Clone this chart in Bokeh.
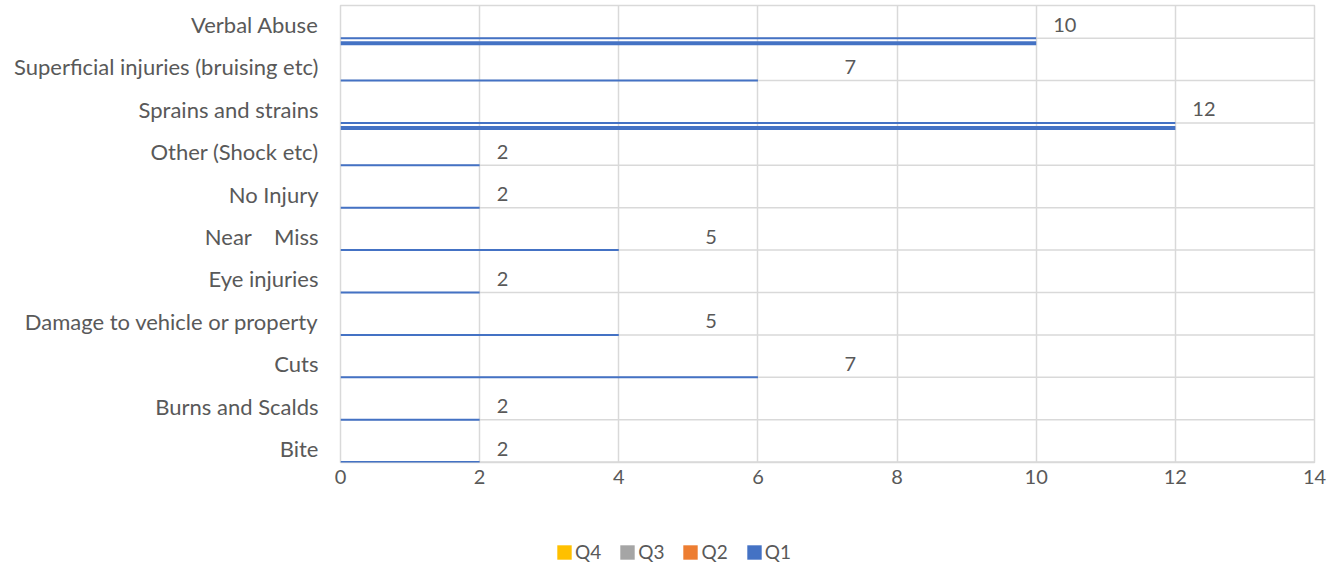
from bokeh.plotting import figure
from bokeh.layouts import column
from bokeh.models import Range1d, FixedTicker, Legend, LegendItem, ColumnDataSource
from bokeh.core.properties import value
from bokeh.embed import file_html
from bokeh.resources import INLINE

# ---- data (bottom to top) ----
categories = ["Bite", "Burns and Scalds", "Cuts", "Damage to vehicle or property",
              "Eye injuries", "Near\u00a0\u00a0\u00a0 Miss", "No Injury", "Other (Shock etc)",
              "Sprains and strains", "Superficial injuries (bruising etc)", "Verbal Abuse"]
q1_values = [2, 2, 6, 4, 2, 4, 2, 2, 12, 6, 10]          # drawn bar length
q1_second = [0, 0, 0, 0, 0, 0, 0, 0, 12, 0, 10]          # second (thick) line
total_labels = [2, 2, 7, 5, 2, 5, 2, 2, 12, 7, 10]       # data labels
x_ticks = [0, 2, 4, 6, 8, 10, 12, 14]
series_names = ["Q4", "Q3", "Q2", "Q1"]
series_colors = ["#FFC000", "#A5A5A5", "#ED7D31", "#4472C4"]

FONT = "Lato"
TXT = "#595959"
GRID = "#D9D9D9"
FS_CAT = "22px"
FS_NUM = "20px"
OFF = 0.32     # bar line sits below category centre (fraction of band)
OFF2 = 0.12    # thick line further below

idx = list(range(len(categories)))
xmax = x_ticks[-1]

p = figure(frame_width=974, frame_height=457, output_backend="svg", toolbar_location=None,
           x_range=Range1d(x_ticks[0], xmax), y_range=Range1d(-0.33, 10.45),
           min_border_left=340, min_border_right=30, min_border_top=5, min_border_bottom=68)
p.background_fill_color = "white"
p.border_fill_color = "white"
p.outline_line_color = GRID
p.outline_line_width = 1.5

p.xgrid.ticker = FixedTicker(ticks=x_ticks)
p.xgrid.grid_line_color = GRID
p.xgrid.grid_line_width = 1.5
p.ygrid.grid_line_color = None

src = ColumnDataSource(dict(
    y=[i - OFF for i in idx],
    yc=idx,
    x0=[0] * len(idx),
    xe=[xmax] * len(idx),
    q1=q1_values,
    lab=[str(v) for v in total_labels],
    lx=total_labels,
))
# horizontal guide lines at each bar position
p.segment(x0="x0", x1="xe", y0="y", y1="y", source=src, line_color=GRID, line_width=1.5)
p.segment(x0="x0", x1="q1", y0="y", y1="y", source=src, line_color="#4472C4", line_width=2)
sub = ColumnDataSource(dict(
    y2=[i - OFF - OFF2 for i, v in zip(idx, q1_second) if v > 0],
    x0=[0 for v in q1_second if v > 0],
    q1b=[v for v in q1_second if v > 0],
))
p.segment(x0="x0", x1="q1b", y0="y2", y1="y2", source=sub, line_color="#4472C4", line_width=4)

p.text(x="lx", y="yc", text="lab", source=src, x_offset=17, text_align="left",
       text_baseline="middle", text_font=value(FONT), text_font_size=FS_NUM, text_color=TXT)

# axes
p.xaxis.ticker = FixedTicker(ticks=x_ticks)
p.xaxis.axis_line_color = None
p.xaxis.major_tick_line_color = None
p.xaxis.minor_tick_line_color = None
p.xaxis.major_label_standoff = 1
p.xaxis.major_label_text_font = FONT
p.xaxis.major_label_text_font_size = FS_NUM
p.xaxis.major_label_text_color = TXT

p.yaxis.ticker = FixedTicker(ticks=idx)
p.yaxis.major_label_overrides = {i: c for i, c in zip(idx, categories)}
p.yaxis.axis_line_color = None
p.yaxis.major_tick_line_color = None
p.yaxis.minor_tick_line_color = None
p.yaxis.major_label_standoff = 16
p.yaxis.major_label_text_font = FONT
p.yaxis.major_label_text_font_size = FS_CAT
p.yaxis.major_label_text_color = TXT

# legend strip below the chart
lg = figure(frame_width=1344, frame_height=38, output_backend="svg", toolbar_location=None,
            x_range=Range1d(0, 1), y_range=Range1d(0, 1),
            x_axis_type=None, y_axis_type=None, min_border=0)
lg.outline_line_color = None
lg.grid.visible = False
lg.background_fill_color = "white"
lg.border_fill_color = "white"
nan = float("nan")
items = []
for name, col in zip(series_names, series_colors):
    r = lg.quad(left=[nan], right=[nan], top=[nan], bottom=[nan], fill_color=col, line_color=None)
    items.append(LegendItem(label=name, renderers=[r]))
legend = Legend(items=items, orientation="horizontal", location=(555, 5),
                border_line_color=None, background_fill_alpha=0, padding=0, margin=0,
                spacing=17, glyph_width=18, glyph_height=18, label_standoff=2,
                label_text_font=FONT, label_text_font_size="19px", label_text_color=TXT)
lg.add_layout(legend, "center")

layout = column(p, lg, spacing=0)
open("out.html", "w").write(file_html(layout, INLINE))
